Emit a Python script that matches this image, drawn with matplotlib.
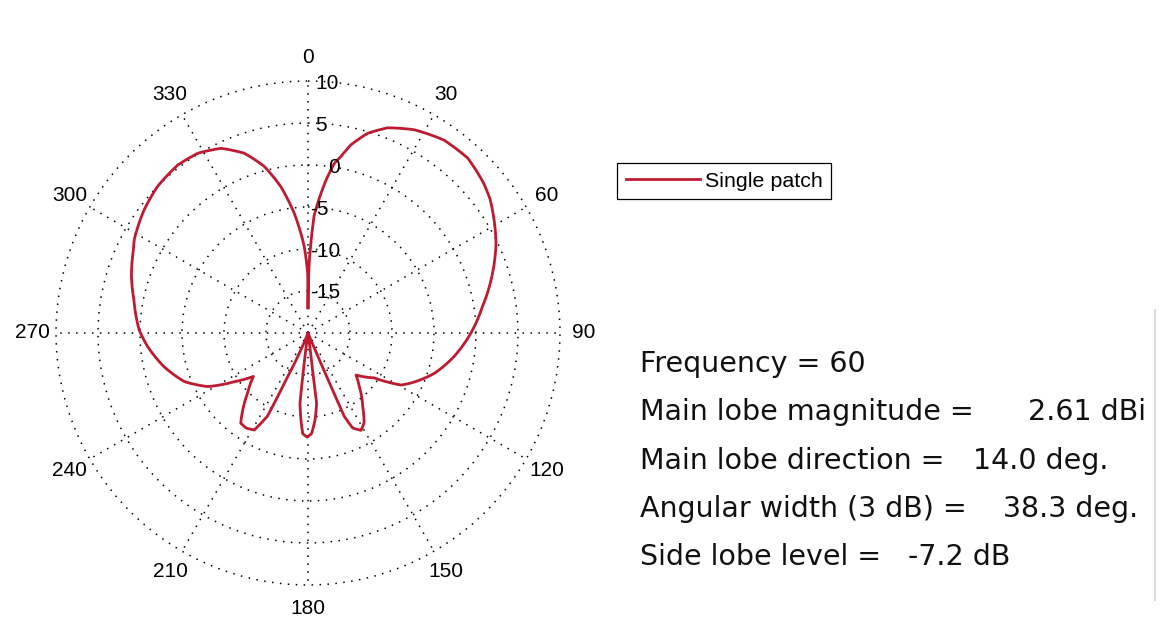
import numpy as np
import matplotlib.pyplot as plt
from matplotlib.lines import Line2D

# radiation pattern (angle clockwise from broadside in degrees, gain in dB)
pattern_deg = [0.0, 1.0, 3.0, 6.7, 8.8, 10.6, 12.9, 16.6, 21.2, 27.6, 35.2, 42.4,
               49.4, 53.7, 57.8, 64.5, 72.9, 81.4, 90.0, 99.2, 107.7, 116.0, 119.2,
               124.2, 131.2, 136.1, 143.3, 148.0, 151.4, 154.8, 156.5, 156.7, 157.0,
               157.5, 172.0, 173.0, 173.0, 175.4, 178.0, 180.5, 183.0, 184.6, 186.5,
               187.0, 188.0, 201.0, 203.0, 205.0, 206.0, 209.0, 213.0, 216.7, 220.3,
               225.0, 231.5, 236.5, 241.8, 248.5, 256.8, 265.1, 271.0, 280.8, 288.0,
               295.3, 298.4, 306.9, 314.2, 322.2, 328.5, 334.8, 340.5, 345.3, 349.5,
               353.5, 357.5, 359.7, 360.0]
pattern_db = [-17.0, -11.7, -6.0, -1.7, 0.4, 1.4, 3.0, 4.8, 6.2, 7.3, 8.1, 8.2,
              7.5, 6.9, 6.1, 4.8, 2.9, 1.0, -0.6, -2.4, -4.2, -6.4, -7.3,
              -10.5, -12.4, -11.2, -9.1, -7.4, -6.8, -7.5, -9.2, -13.1, -17.4,
              -20.0, -20.0, -15.6, -11.6, -9.6, -8.0, -7.6, -8.0, -9.6, -11.6,
              -15.6, -20.0, -20.0, -17.8, -14.3, -9.0, -6.8, -6.5, -6.6, -8.0,
              -9.8, -11.7, -9.5, -6.5, -4.2, -2.4, -0.85, 0.1, 1.1, 2.1,
              3.0, 3.5, 4.4, 5.0, 5.3, 5.1, 4.3, 2.7, 0.5, -2.3,
              -5.7, -9.7, -12.9, -17.0]

r_ticks = [-15, -10, -5, 0, 5, 10]
theta_ticks = list(range(0, 360, 30))

stat_labels = ["Frequency = 60", "Main lobe magnitude =", "Main lobe direction =",
               "Angular width (3 dB) =", "Side lobe level ="]
stat_values = ["", "2.61 dBi", "14.0 deg.", "38.3 deg.", "-7.2 dB"]

W, H = 1162, 623
fig = plt.figure(figsize=(W / 100, H / 100), dpi=100)
ax = fig.add_axes([0.0482, 0.061, 0.4337, 0.809], projection='polar')
ax.set_theta_zero_location('N')
ax.set_theta_direction(-1)
ax.set_rlim(-20, 10)
ax.set_rticks(r_ticks)
ax.set_xticks(np.deg2rad(theta_ticks))
ax.set_xticklabels([])
ax.set_yticklabels([])
ax.spines['polar'].set_visible(False)
ax.grid(True, color='k', linestyle=(0, (1, 4.2)), linewidth=1.1)
for gl in ax.yaxis.get_gridlines():
    gl.set_clip_on(False)   # outer ring sits on the axes edge

line, = ax.plot(np.deg2rad(pattern_deg), pattern_db, color='#C01A30', lw=2.0,
                label='Single patch')
# let the polar transform bend each segment instead of drawing chords
line.get_path()._interpolation_steps = 40

axis_font = ['Liberation Sans Narrow', 'Liberation Sans', 'DejaVu Sans']
for a in theta_ticks:
    ax.text(np.deg2rad(a), 12.8, str(a), ha='center', va='center',
            fontsize=15, family=axis_font, clip_on=False)
for v in r_ticks:
    dx = 20 if v == 0 else (7 if v > 0 else 2)
    ax.annotate(str(v), xy=(0, v), xytext=(dx, -2), textcoords='offset pixels',
                ha='left', va='center', fontsize=15, family=axis_font)

leg = ax.legend(handles=[line], loc='upper left', bbox_to_anchor=(617 / W, 1 - 163 / H),
                bbox_transform=fig.transFigure, borderaxespad=0, fancybox=False,
                framealpha=1, edgecolor='k', handlelength=3.5, handletextpad=0.2,
                borderpad=0.4, prop={'family': 'Liberation Sans', 'size': 15.4})
leg.get_frame().set_linewidth(0.9)

baselines = [372, 420, 469, 517, 565]
value_x = [0, 1028, 973, 1003, 908]
for lab, val, y, vx in zip(stat_labels, stat_values, baselines, value_x):
    fig.text(640 / W, 1 - y / H, lab, ha='left', va='baseline', fontsize=20.5,
             family='DejaVu Sans', color='#111111')
    if val:
        fig.text(vx / W, 1 - y / H, val, ha='left', va='baseline', fontsize=20.5,
                 family='DejaVu Sans', color='#111111')

fig.add_artist(Line2D([1155 / W, 1155 / W], [1 - 310 / H, 1 - 600 / H],
                      color='#dcdcdc', lw=1.5))

fig.savefig('out.png', dpi=100)
